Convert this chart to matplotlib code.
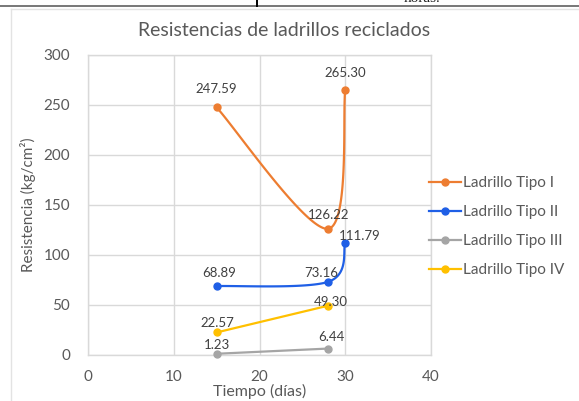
import numpy as np
import matplotlib
matplotlib.use("Agg")
import matplotlib.pyplot as plt
from matplotlib.lines import Line2D

plt.rcParams['font.family'] = ['Lato', 'DejaVu Sans']

title = "Resistencias de ladrillos reciclados"
x_label = "Tiempo (días)"
y_label = "Resistencia (kg/cm²)"
series_names = ["Ladrillo Tipo I", "Ladrillo Tipo II", "Ladrillo Tipo III", "Ladrillo Tipo IV"]
days_1 = [15, 28, 30]
tipo_1 = [247.59, 126.22, 265.30]
days_2 = [15, 28, 30]
tipo_2 = [68.89, 73.16, 111.79]
days_3 = [15, 28]
tipo_3 = [1.23, 6.44]
days_4 = [15, 28]
tipo_4 = [22.57, 49.30]
x_ticks = [0, 10, 20, 30, 40]
y_ticks = [0, 50, 100, 150, 200, 250, 300]

colors = ["#ED7D31", "#1F5FE6", "#A5A5A5", "#FFC000"]
# label offsets in pixels (dx, dy)
offsets = [
    [(0, 18), (1, 14), (0, 17)],
    [(3, 13), (-7, 9), (14, 7)],
    [(0, 9), (3, 12)],
    [(1, 9), (3, 4)],
]

W, H = 579, 401
fig = plt.figure(figsize=(W / 100, H / 100), dpi=100)
L, R, T, B = 88, 431, 55, 355
ax = fig.add_axes([L / W, 1 - B / H, (R - L) / W, (B - T) / H])
ax.set_xlim(0, 40)
ax.set_ylim(0, 300)
ax.set_xticks(x_ticks)
ax.set_yticks(y_ticks)
ax.grid(True, color="#D9D9D9", linewidth=1.0)
ax.set_axisbelow(True)
for s in ax.spines.values():
    s.set_color("#D9D9D9")
    s.set_linewidth(1.0)
ax.tick_params(length=0, labelsize=11, colors="#595959", pad=13)
ax.tick_params(axis='x', pad=11)
ax.set_xlabel(x_label, fontsize=11.5, color="#595959", labelpad=0)
ax.set_ylabel(y_label, fontsize=11, color="#595959", labelpad=5)

sx = (R - L) / 40.0
sy = (B - T) / 300.0


def smooth(xs, ys, n=60):
    P = np.column_stack([np.array(xs) * sx, np.array(ys) * sy])
    if len(P) < 3:
        return np.array(xs, float), np.array(ys, float)
    out = []
    m = len(P)
    for i in range(m - 1):
        p0 = P[i - 1] if i > 0 else P[i]
        p1 = P[i]
        p2 = P[i + 1]
        p3 = P[i + 2] if i + 2 < m else P[i + 1]
        c1 = p1 + (p2 - p0) / 6.0
        c2 = p2 - (p3 - p1) / 6.0
        t = np.linspace(0, 1, n)[:, None]
        seg = ((1 - t) ** 3) * p1 + 3 * ((1 - t) ** 2) * t * c1 + 3 * (1 - t) * t ** 2 * c2 + t ** 3 * p2
        out.append(seg if i == 0 else seg[1:])
    out = np.vstack(out)
    return out[:, 0] / sx, out[:, 1] / sy


data = [(days_1, tipo_1), (days_2, tipo_2), (days_3, tipo_3), (days_4, tipo_4)]
handles = []
for k, ((xs, ys), c) in enumerate(zip(data, colors)):
    cx, cy = smooth(xs, ys)
    ax.plot(cx, cy, color=c, linewidth=1.6, solid_capstyle='round', zorder=3, clip_on=False)
    ax.plot(xs, ys, 'o', color=c, markersize=5, zorder=4, clip_on=False)
    for (xv, yv), (dx, dy) in zip(zip(xs, ys), offsets[k]):
        ax.annotate(f"{yv:.2f}", (xv, yv), xytext=(dx * 0.72, dy * 0.72), textcoords='offset points',
                    ha='center', va='center', fontsize=9.5, color="#404040", zorder=5)
    handles.append(Line2D([0], [0], color=c, linewidth=1.6, marker='o', markersize=5))

fig.legend(handles, series_names, loc='upper left', bbox_to_anchor=(429 / W, 1 - 176 / H),
           frameon=False, fontsize=11, labelcolor="#595959", handlelength=2.1,
           handletextpad=0.1, labelspacing=0.98, borderpad=0, borderaxespad=0)

fig.text(284 / W, 1 - 30 / H, title, ha='center', va='center', fontsize=14, color="#595959")

# surrounding page decorations
fig.add_artist(Line2D([11 / W, 11 / W], [0, 1 - 9 / H], color="#E3E3E3", linewidth=1.0))
fig.add_artist(Line2D([11 / W, 1], [1 - 9 / H, 1 - 9 / H], color="#E3E3E3", linewidth=1.0))
fig.add_artist(Line2D([0, 1], [1 - 6 / H, 1 - 6 / H], color="#777777", linewidth=1.4))
fig.add_artist(Line2D([257 / W, 257 / W], [1 - 6 / H, 1], color="#000000", linewidth=1.4))
fig.text(404 / W, 1 - 2.5 / H, "horas.", ha='left', va='baseline', fontsize=11,
         family='Liberation Serif', color="#222222")

fig.savefig("out.png", dpi=100)
